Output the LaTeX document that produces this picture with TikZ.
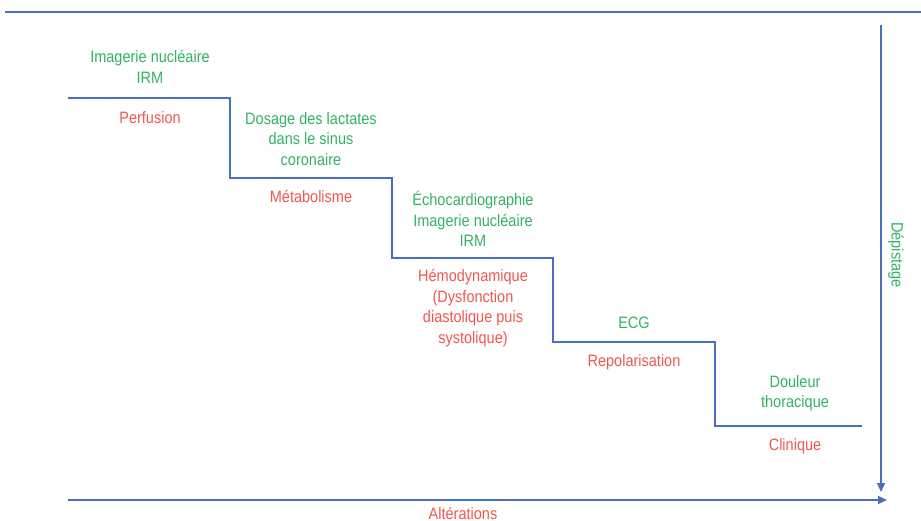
\documentclass[tikz,border=0pt]{standalone}
\usepackage{fontspec}
\setmainfont{Liberation Sans}[FakeStretch=0.88]
\usetikzlibrary{arrows.meta}
\definecolor{lineblue}{RGB}{72,110,190}
\definecolor{txtgreen}{RGB}{52,178,100}
\definecolor{txtred}{RGB}{240,88,78}
\tikzset{
  axis/.style={draw=lineblue, line width=1.3pt},
  stair/.style={draw=lineblue, line width=1.2pt},
  gtxt/.style={text=txtgreen, font=\fontsize{16.5}{20.5}\selectfont, align=center, inner sep=0pt},
  rtxt/.style={text=txtred, font=\fontsize{16.5}{20.5}\selectfont, align=center, inner sep=0pt},
}
\begin{document}
\begin{tikzpicture}[x=1pt,y=-1pt]
\useasboundingbox (0,0) rectangle (921,521);
% top rule
\coordinate (tl) at (5,12);
\coordinate (tr) at (921,12);
\draw[axis] (tl) -- (tr);
% vertical axis (Dépistage)
\coordinate (vtop) at (881,25);
\coordinate (vbot) at (881,492);
\draw[axis, -{Triangle[length=9pt,width=8pt]}] (vtop) -- (vbot);
% horizontal axis (Altérations)
\coordinate (hl) at (68,500);
\coordinate (hr) at (887,500);
\draw[axis, -{Triangle[length=9pt,width=8pt]}] (hl) -- (hr);
\node[rtxt, anchor=north] (alt) at (463,507) {Altérations};
\node[gtxt, rotate=-90] (dep) at (896,255) {Dépistage};
% staircase
\coordinate (s0) at (68,98);
\coordinate (s1) at (230,98);
\coordinate (s2) at (230,178);
\coordinate (s3) at (392,178);
\coordinate (s4) at (392,258);
\coordinate (s5) at (553,258);
\coordinate (s6) at (553,342);
\coordinate (s7) at (715,342);
\coordinate (s8) at (715,426);
\coordinate (s9) at (862,426);
\draw[stair] (s0) -- (s1) -- (s2) -- (s3) -- (s4) -- (s5) -- (s6) -- (s7) -- (s8) -- (s9);
% texts
\node[gtxt] (g1) at (150,67) {Imagerie nucléaire\\IRM};
\node[rtxt] (r1) at (150,118) {Perfusion};
\node[gtxt] (g2) at (311,139) {Dosage des lactates\\dans le sinus\\coronaire};
\node[rtxt] (r2) at (311,197) {Métabolisme};
\node[gtxt] (g3) at (473,219) {Échocardiographie\\Imagerie nucléaire\\IRM};
\node[rtxt] (r3) at (473,308) {Hémodynamique\\(Dysfonction\\diastolique puis\\systolique)};
\node[gtxt] (g4) at (634,323) {ECG};
\node[rtxt] (r4) at (634,362) {Repolarisation};
\node[gtxt] (g5) at (795,393) {Douleur\\thoracique};
\node[rtxt] (r5) at (795,446) {Clinique};
\end{tikzpicture}
\end{document}
